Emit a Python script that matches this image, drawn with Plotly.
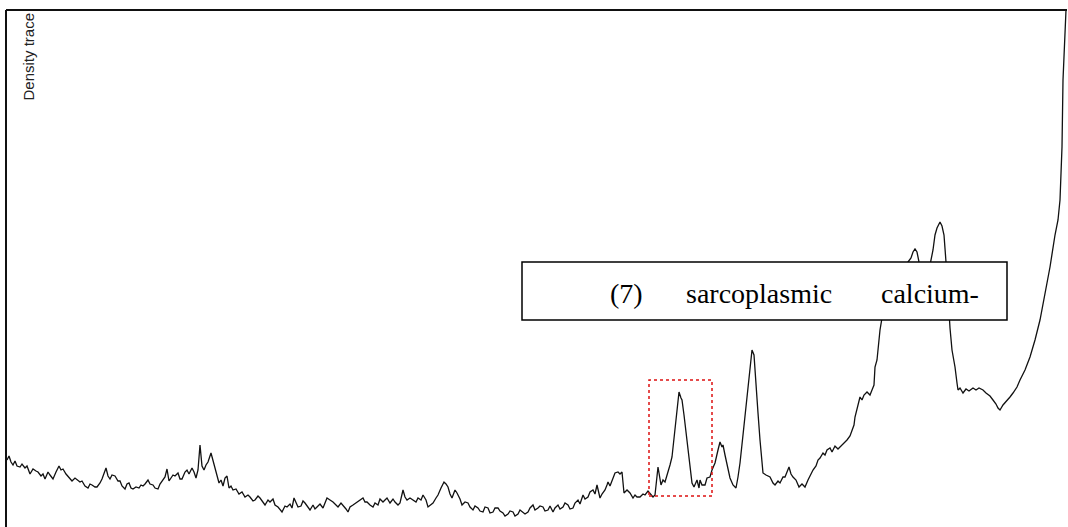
import plotly.graph_objects as go

# migration position (px along the lane) and density value
position = [7,9,11,13,15,17,20,22,25,27,30,33,36,38,41,43,45,48,50,53,56,59,61,63,66,69,72,75,77,80,
            82,85,88,90,92,95,97,100,102,104,106,108,110,112,115,118,120,122,125,127,129,131,133,136,139,141,143,145,148,150,
            153,155,158,160,163,165,167,169,171,173,175,178,180,182,185,187,189,192,194,196,198,200,202,204,206,208,211,213,215,217,
            219,221,223,225,227,229,231,233,236,239,242,245,248,
            250,253,255,258,260,263,265,268,270,273,275,278,282,285,287,290,292,294,296,298,301,303,305,308,310,313,315,317,320,323,
            325,327,330,333,336,338,341,343,346,348,350,353,356,358,360,363,365,367,370,373,375,378,380,383,385,387,390,393,395,398,
            400,403,405,407,410,413,416,418,421,423,426,428,431,433,436,438,441,444,446,448,450,452,455,457,460,462,465,468,470,473,
            475,478,480,483,485,488,490,493,495,498,500,503,505,508,510,513,515,518,520,523,525,528,530,533,535,538,540,543,545,548,
            550,553,555,558,560,563,565,568,570,573,575,578,580,583,585,588,590,593,595,597,599,600,602,605,607,608,610,613,615,618,
            620,622,624,627,630,633,635,637,640,643,645,648,650,653,655,658,661,663,665,668,670,672,674,677,679,681,682,684,687,689,
            692,694,697,699,700,702,705,707,710,712,715,718,720,722,723,725,728,730,733,736,738,740,743,747,750,752,754,756,758,760,
            762,763,766,770,773,775,778,780,783,785,787,789,791,793,796,799,802,805,808,810,813,816,818,820,823,825,827,830,832,835,
            838,840,842,845,847,850,852,854,855,857,860,862,864,867,870,872,874,875,877,880,883,890,900,908,911,913,915,917,919,925,
            930,933,935,937,940,942,944,946,948,950,952,955,957,958,960,963,966,969,973,976,979,983,986,990,993,996,998,1000,1003,1005,
            1007,1010,1013,1017,1020,1025,1030,1035,1040,1045,1050,1055,1058,1060,1062,1063,1065,1066]

density = [67,71,65,62,66,61,60,63,59,61,53,58,56,55,51,53,48,55,52,48,55,61,57,58,53,50,46,49,47,45,
           46,41,39,43,42,40,40,44,48,53,59,51,48,52,51,46,46,41,38,43,44,39,38,40,39,42,41,43,47,43,
           42,39,38,43,48,50,58,46,49,52,51,54,48,48,55,57,53,59,55,49,57,82,61,57,62,65,74,66,60,49,
           44,47,41,49,51,39,41,37,38,33,35,30,32,
           30,26,27,31,29,24,22,27,25,28,22,20,15,21,20,23,19,29,24,20,21,26,24,20,17,22,18,20,23,19,
           24,29,27,25,22,20,24,22,18,15,20,22,24,26,27,29,25,25,22,20,24,22,28,25,27,29,24,28,25,22,
           24,37,30,27,29,27,25,29,27,32,27,20,22,24,29,32,39,45,43,40,33,29,37,34,28,22,25,24,20,17,
           21,19,16,15,20,19,14,15,19,19,16,14,11,13,16,15,11,13,17,15,13,15,19,22,17,19,21,20,16,17,
           21,15,19,22,18,20,24,22,18,19,24,27,23,32,28,30,35,37,33,42,34,29,33,37,42,45,41,50,54,55,
           53,55,34,37,34,29,32,30,30,33,32,36,34,30,32,60,42,47,45,54,62,70,87,114,135,129,127,112,87,67,
           44,40,47,39,47,42,42,49,50,57,64,77,85,80,82,72,60,49,42,39,50,64,92,130,162,177,172,147,114,87,
           62,54,52,50,44,42,46,44,50,50,55,60,53,50,47,40,43,40,47,51,57,61,67,69,74,72,77,79,75,81,
           78,80,82,84,87,91,97,102,110,117,130,127,132,135,132,137,142,160,167,197,215,237,255,265,269,275,278,275,265,252,
           262,277,292,299,305,301,292,265,227,199,177,160,144,137,139,134,138,136,139,137,139,137,134,131,127,123,119,117,122,124,
           127,130,134,140,147,157,170,187,207,232,260,292,307,327,380,447,507,517]

label_words = ["(7)", "sarcoplasmic", "calcium-"]
axis_title = "Density trace"

fig = go.Figure()
fig.add_trace(go.Scatter(x=position, y=density, mode="lines",
                         line=dict(color="#111111", width=1.3), hoverinfo="skip"))

W, H = 1068, 527
shapes = [
    # frame: left and top edges
    dict(type="line", xref="x", yref="y", x0=6, x1=6, y0=0, y1=H - 10,
         line=dict(color="#111111", width=2)),
    dict(type="line", xref="x", yref="y", x0=6, x1=1067, y0=H - 10, y1=H - 10,
         line=dict(color="#111111", width=2)),
    # highlighted peak
    dict(type="rect", xref="x", yref="y", x0=649, x1=712, y0=H - 496, y1=H - 380,
         line=dict(color="#dd1111", width=1.5, dash="dot"), fillcolor="rgba(0,0,0,0)"),
    # label box
    dict(type="rect", xref="x", yref="y", x0=522, x1=1007, y0=H - 320, y1=H - 262,
         line=dict(color="#000000", width=1.5), fillcolor="white", layer="above"),
]

annotations = [
    dict(x=27.5, y=H - 57, xref="x", yref="y", text=axis_title, textangle=-90,
         showarrow=False, font=dict(family="Liberation Sans, Arial", size=15, color="#222222")),
]
for word, cx in zip(label_words, [626.5, 759, 930]):
    annotations.append(dict(x=cx, y=H - 293, xref="x", yref="y", text=word, showarrow=False,
                            font=dict(family="Liberation Serif, Times New Roman", size=28, color="#000000")))

fig.update_layout(
    width=W, height=H, margin=dict(l=0, r=0, t=0, b=0),
    paper_bgcolor="white", plot_bgcolor="white", showlegend=False,
    xaxis=dict(range=[0, W], visible=False, fixedrange=True),
    yaxis=dict(range=[0, H], visible=False, fixedrange=True),
    shapes=shapes, annotations=annotations,
)
fig.write_html("out.html")
